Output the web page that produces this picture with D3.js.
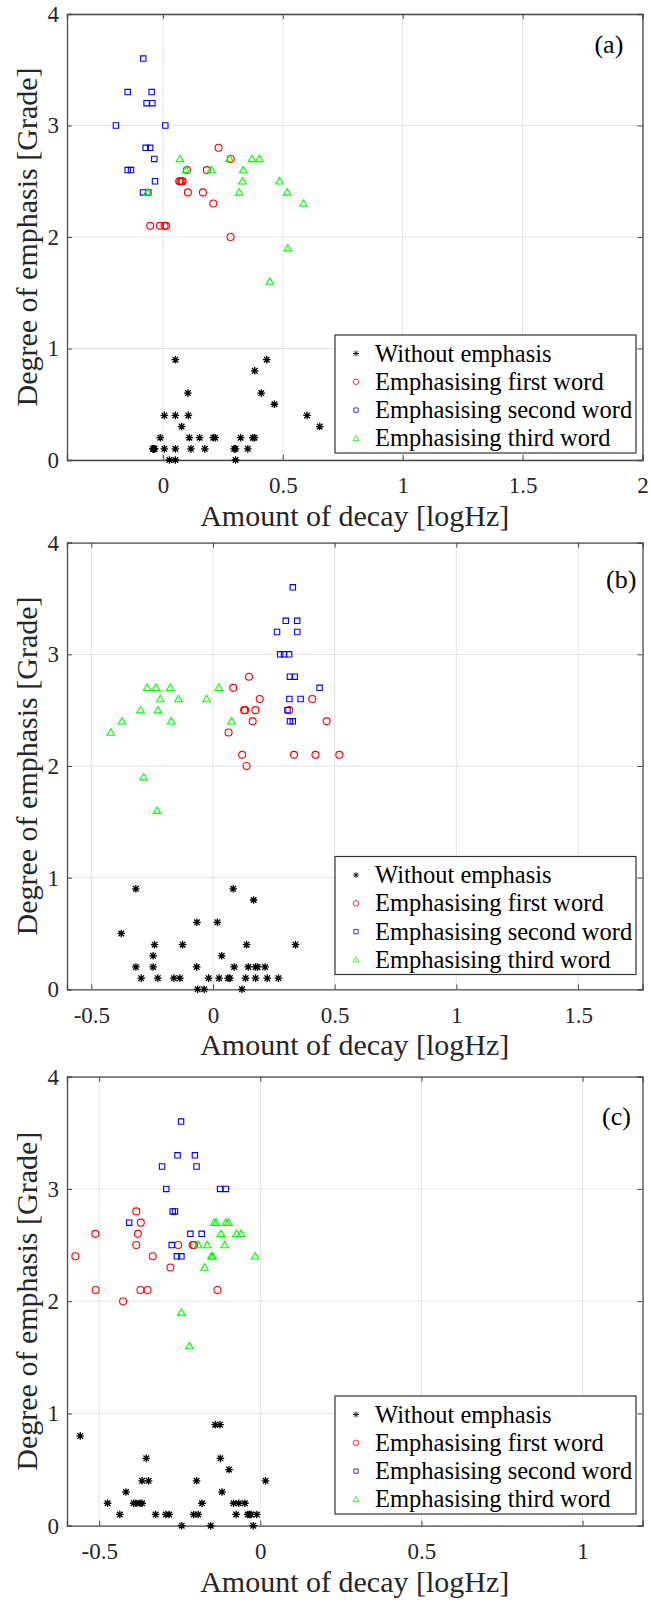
<!DOCTYPE html>
<html>
<head>
<meta charset="utf-8">
<script src="https://cdn.jsdelivr.net/npm/d3@7"></script>
<style>
  body { margin: 0; background: #fff; }
  svg { display: block; }
  text { font-family: "Liberation Serif", "Times New Roman", serif; }
</style>
</head>
<body>
<svg id="fig" width="651" height="1606"></svg>
<script>
// ---- Series definitions ----
const seriesNames = ["Without emphasis", "Emphasising first word", "Emphasising second word", "Emphasising third word"];
const seriesColors = ["#000000", "#ff0000", "#0000ff", "#00ff00"];
const seriesShapes = ["star", "circle", "square", "triangle"];

// ---- Axis limits and tick labels ----
const yLim = [0, 4];
const yTicks = [0, 1, 2, 3, 4];
const xLimA = [-0.4, 2];
const xLimB = [-0.6, 1.765];
const xLimC = [-0.6, 1.186];
const xTicksA = [0, 0.5, 1, 1.5, 2];
const xTicksB = [-0.5, 0, 0.5, 1, 1.5];
const xTicksC = [-0.5, 0, 0.5, 1];
const panelTags = ["(a)", "(b)", "(c)"];
const xLabel = "Amount of decay [logHz]";
const yLabel = "Degree of emphasis [Grade]";

// ---- (a) [amount of decay, grade] ----
const aWithout = [[0.052,0.9],[0.433,0.9],[0.383,0.8],[0.104,0.6],[0.41,0.6],[0.465,0.5],
  [0.006,0.4],[0.052,0.4],[0.106,0.4],[0.601,0.4],[0.078,0.3],[0.654,0.3],
  [-0.011,0.2],[0.11,0.2],[0.153,0.2],[0.21,0.2],[0.218,0.2],[0.324,0.2],[0.375,0.2],[0.382,0.2],
  [-0.042,0.1],[-0.039,0.1],[-0.037,0.1],[-0.035,0.1],[0.006,0.1],[0.052,0.1],[0.117,0.1],[0.175,0.1],[0.297,0.1],[0.303,0.1],[0.354,0.1],
  [0.027,0],[0.052,0],[0.303,0]];
const aFirst = [[0.232,2.8],[0.283,2.7],[0.10,2.6],[0.183,2.6],[0.068,2.5],[0.073,2.5],[0.078,2.5],[0.082,2.5],
  [0.104,2.4],[0.167,2.4],[0.21,2.3],[-0.053,2.1],[-0.012,2.1],[0.007,2.1],[0.014,2.1],[0.282,2.0]];
const aSecond = [[-0.082,3.6],[-0.147,3.3],[-0.047,3.3],[-0.068,3.2],[-0.044,3.2],[-0.196,3.0],[0.01,3.0],
  [-0.072,2.8],[-0.053,2.8],[-0.036,2.7],[-0.147,2.6],[-0.133,2.6],[-0.033,2.5],[-0.083,2.4],[-0.061,2.4]];
const aThird = [[0.071,2.7],[0.278,2.7],[0.371,2.7],[0.402,2.7],[0.096,2.6],[0.201,2.6],[0.335,2.6],
  [0.332,2.5],[0.486,2.5],[-0.065,2.4],[0.318,2.4],[0.518,2.4],[0.586,2.3],[0.521,1.9],[0.446,1.6]];

// ---- (b) ----
const bWithout = [[-0.317,0.9],[0.083,0.9],[0.167,0.8],[-0.066,0.6],[0.018,0.6],[-0.377,0.5],
  [-0.24,0.4],[-0.125,0.4],[0.138,0.4],[0.339,0.4],[-0.246,0.3],[0.036,0.3],
  [-0.317,0.2],[-0.246,0.2],[-0.067,0.2],[0.087,0.2],[0.145,0.2],[0.175,0.2],[0.183,0.2],[0.214,0.2],
  [-0.295,0.1],[-0.227,0.1],[-0.161,0.1],[-0.136,0.1],[-0.018,0.1],[0.025,0.1],[0.062,0.1],[0.069,0.1],[0.134,0.1],[0.175,0.1],[0.223,0.1],[0.269,0.1],
  [-0.063,0],[-0.036,0],[0.119,0]];
const bFirst = [[0.148,2.8],[0.083,2.7],[0.192,2.6],[0.408,2.6],[0.128,2.5],[0.132,2.5],[0.174,2.5],[0.313,2.5],
  [0.163,2.4],[0.467,2.4],[0.064,2.3],[0.12,2.1],[0.333,2.1],[0.421,2.1],[0.519,2.1],[0.138,2.0]];
const bSecond = [[0.328,3.6],[0.299,3.3],[0.346,3.3],[0.263,3.2],[0.346,3.2],[0.276,3.0],[0.292,3.0],[0.313,3.0],
  [0.316,2.8],[0.336,2.8],[0.438,2.7],[0.314,2.6],[0.36,2.6],[0.306,2.5],[0.316,2.4],[0.328,2.4]];
const bThird = [[-0.271,2.7],[-0.234,2.7],[-0.176,2.7],[0.024,2.7],[-0.217,2.6],[-0.142,2.6],[-0.026,2.6],
  [-0.298,2.5],[-0.226,2.5],[-0.374,2.4],[-0.172,2.4],[0.076,2.4],[-0.42,2.3],[-0.285,1.9],[-0.23,1.6]];

// ---- (c) ----
const cWithout = [[-0.559,0.8],[-0.14,0.9],[-0.125,0.9],[-0.354,0.6],[-0.124,0.6],[-0.097,0.5],
  [-0.367,0.4],[-0.347,0.4],[-0.198,0.4],[0.016,0.4],[-0.417,0.3],[-0.119,0.3],
  [-0.474,0.2],[-0.393,0.2],[-0.386,0.2],[-0.373,0.2],[-0.367,0.2],[-0.181,0.2],[-0.083,0.2],[-0.067,0.2],[-0.048,0.2],
  [-0.436,0.1],[-0.325,0.1],[-0.293,0.1],[-0.283,0.1],[-0.207,0.1],[-0.193,0.1],[-0.075,0.1],[-0.039,0.1],[-0.034,0.1],[-0.029,0.1],[-0.011,0.1],
  [-0.244,0],[-0.154,0],[-0.022,0]];
const cFirst = [[-0.385,2.8],[-0.371,2.7],[-0.512,2.6],[-0.38,2.6],[-0.385,2.5],[-0.255,2.5],[-0.21,2.5],[-0.206,2.5],
  [-0.574,2.4],[-0.334,2.4],[-0.279,2.3],[-0.511,2.1],[-0.372,2.1],[-0.35,2.1],[-0.133,2.1],[-0.426,2.0]];
const cSecond = [[-0.246,3.6],[-0.257,3.3],[-0.203,3.3],[-0.305,3.2],[-0.198,3.2],[-0.292,3.0],[-0.125,3.0],[-0.107,3.0],
  [-0.272,2.8],[-0.265,2.8],[-0.407,2.7],[-0.217,2.6],[-0.182,2.6],[-0.275,2.5],[-0.259,2.4],[-0.245,2.4]];
const cThird = [[-0.143,2.7],[-0.137,2.7],[-0.107,2.7],[-0.099,2.7],[-0.122,2.6],[-0.074,2.6],[-0.06,2.6],
  [-0.193,2.5],[-0.165,2.5],[-0.111,2.5],[-0.152,2.4],[-0.148,2.4],[-0.016,2.4],[-0.173,2.3],[-0.245,1.9],[-0.22,1.6]];

// ---- Layout ----
const FONT = "Liberation Serif, Times New Roman, serif";
const INK = "#262626";
const plotLeft = 67, plotRight = 642.5;
const panels = [
  { top: 14,    bottom: 460,    xLim: xLimA, xTicks: xTicksA, tag: panelTags[0], tagAt: [1.92, 3.648],
    legendTop: 335,   series: [aWithout, aFirst, aSecond, aThird] },
  { top: 542.7, bottom: 989.3,  xLim: xLimB, xTicks: xTicksB, tag: panelTags[1], tagAt: [1.74, 3.594],
    legendTop: 856.5, series: [bWithout, bFirst, bSecond, bThird] },
  { top: 1076.7, bottom: 1525.7, xLim: xLimC, xTicks: xTicksC, tag: panelTags[2], tagAt: [1.15, 3.573],
    legendTop: 1396,  series: [cWithout, cFirst, cSecond, cThird] }
];

// Marker glyphs (MATLAB-like '*', 'o', 's', '^')
function markerPath(shape) {
  switch (shape) {
    case "star": {
      const s = 3.8, d = 2.8;
      return `M${-s},0H${s}M0,${-s}V${s}M${-d},${-d}L${d},${d}M${-d},${d}L${d},${-d}`;
    }
    case "circle": {
      const r = 3.5;
      return `M${r},0A${r},${r} 0 1,1 ${-r},0A${r},${r} 0 1,1 ${r},0Z`;
    }
    case "square": {
      const h = 2.7;
      return `M${-h},${-h}H${h}V${h}H${-h}Z`;
    }
    case "triangle":
      return "M0,-3.7L3.8,2.7L-3.8,2.7Z";
  }
}
const markerWidth = [1.3, 1.1, 1.1, 1.1];

const svg = d3.select("#fig");
svg.append("rect").attr("width", 651).attr("height", 1606).attr("fill", "#fff");

const fmt = d => String(d);

panels.forEach(p => {
  const x = d3.scaleLinear().domain(p.xLim).range([plotLeft, plotRight]);
  const y = d3.scaleLinear().domain(yLim).range([p.bottom, p.top]);
  const g = svg.append("g");

  // grid
  g.append("g").selectAll("line").data(p.xTicks).join("line")
    .attr("x1", d => x(d)).attr("x2", d => x(d))
    .attr("y1", p.top).attr("y2", p.bottom)
    .attr("stroke", "#e3e3e3").attr("stroke-width", 1);
  g.append("g").selectAll("line").data(yTicks).join("line")
    .attr("x1", plotLeft).attr("x2", plotRight)
    .attr("y1", d => y(d)).attr("y2", d => y(d))
    .attr("stroke", "#e3e3e3").attr("stroke-width", 1);

  // axes with inward ticks, on all four sides
  const tl = 5;
  const bottomAxis = d3.axisBottom(x).tickValues(p.xTicks).tickSize(-tl).tickPadding(17).tickFormat(fmt);
  const topAxis = d3.axisTop(x).tickValues(p.xTicks).tickSize(-tl).tickFormat("");
  const leftAxis = d3.axisLeft(y).tickValues(yTicks).tickSize(-tl).tickPadding(8).tickFormat(fmt);
  const rightAxis = d3.axisRight(y).tickValues(yTicks).tickSize(-tl).tickFormat("");

  const styleAxis = sel => {
    sel.attr("font-family", FONT).attr("font-size", 23);
    sel.select(".domain").attr("stroke", "#4a4a4a").attr("stroke-width", 1.3);
    sel.selectAll(".tick line").attr("stroke", "#4a4a4a").attr("stroke-width", 1);
    sel.selectAll(".tick text").attr("fill", INK);
  };
  g.append("g").attr("transform", `translate(0,${p.bottom})`).call(bottomAxis).call(styleAxis)
    .selectAll(".tick text").attr("dy", "0.71em");
  g.append("g").attr("transform", `translate(0,${p.top})`).call(topAxis).call(styleAxis);
  g.append("g").attr("transform", `translate(${plotLeft},0)`).call(leftAxis).call(styleAxis);
  g.append("g").attr("transform", `translate(${plotRight},0)`).call(rightAxis).call(styleAxis);

  // axis labels
  g.append("text")
    .attr("x", (plotLeft + plotRight) / 2).attr("y", p.bottom + 66)
    .attr("text-anchor", "middle").attr("fill", INK)
    .attr("font-size", 30)
    .text(xLabel);
  g.append("text")
    .attr("transform", `translate(37,${(p.top + p.bottom) / 2}) rotate(-90)`)
    .attr("text-anchor", "middle").attr("fill", INK)
    .attr("font-size", 30)
    .text(yLabel);

  // scatter marks
  p.series.forEach((pts, si) => {
    g.append("g").selectAll("path").data(pts).join("path")
      .attr("transform", d => `translate(${x(d[0])},${y(d[1])})`)
      .attr("d", markerPath(seriesShapes[si]))
      .attr("fill", "none")
      .attr("stroke", seriesColors[si])
      .attr("stroke-width", markerWidth[si]);
  });

  // panel tag
  g.append("text")
    .attr("x", x(p.tagAt[0])).attr("y", y(p.tagAt[1]))
    .attr("text-anchor", "end").attr("fill", "#000")
    .attr("font-size", 26)
    .text(p.tag);

  // legend
  const lw = 301, lh = 118;
  const lx = plotRight - 6.5 - lw, ly = p.legendTop;
  const lg = g.append("g").attr("transform", `translate(${lx},${ly})`);
  lg.append("rect").attr("width", lw).attr("height", lh)
    .attr("fill", "#fff").attr("stroke", "#333").attr("stroke-width", 1.2);
  seriesNames.forEach((name, i) => {
    const cy = 18.5 + i * 28.3;
    lg.append("path")
      .attr("transform", `translate(21,${cy}) scale(0.8)`)
      .attr("d", markerPath(seriesShapes[i]))
      .attr("fill", "none").attr("stroke", seriesColors[i]).attr("stroke-width", 1);
    lg.append("text")
      .attr("x", 40).attr("y", cy).attr("dy", "0.33em")
      .attr("fill", "#000")
      .attr("font-size", 24.5)
      .text(name);
  });
});
</script>
</body>
</html>
